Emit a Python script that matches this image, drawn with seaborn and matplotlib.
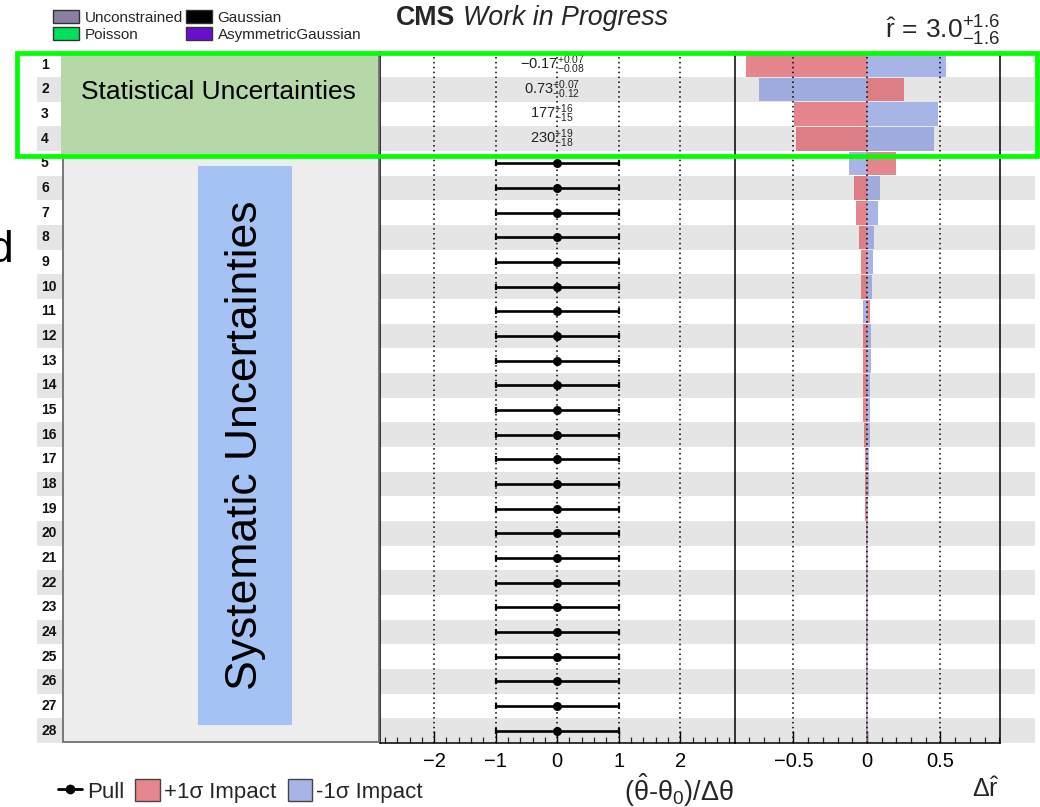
import numpy as np
import pandas as pd
import seaborn as sns
import matplotlib
matplotlib.use("Agg")
import matplotlib.pyplot as plt
from matplotlib.patches import Rectangle, Patch
from matplotlib.lines import Line2D
from matplotlib.ticker import MultipleLocator
import matplotlib.transforms as mtransforms

# ---------------- data ----------------
rows = [str(i) for i in range(1, 29)]

plus_impact = [-0.82, 0.25, -0.495, -0.485, 0.20, -0.088, -0.075, -0.052, -0.041, -0.039,
               0.018, -0.030, -0.028, -0.026, -0.024, -0.020, -0.014, -0.012, -0.011, -0.010,
               -0.009, -0.008, -0.008, -0.007, -0.007, -0.006, -0.006, -0.005]
minus_impact = [0.535, -0.735, 0.484, 0.456, -0.125, 0.086, 0.072, 0.048, 0.041, 0.036,
                -0.030, 0.027, 0.027, 0.020, 0.018, 0.018, 0.013, 0.011, 0.010, 0.009,
                0.008, 0.008, 0.007, 0.007, 0.006, 0.006, 0.005, 0.005]

pull_rows = rows[4:]
pull_values = [0.0] * 24
pull_errors = [1.0] * 24

poi_rows = rows[:4]
poi_labels = [r"$\mathrm{-0.17}^{+0.07}_{-0.08}$", r"$0.73^{+0.07}_{-0.12}$",
              r"$177^{+16}_{-15}$", r"$230^{+19}_{-18}$"]

pull_ticks = [-2, -1, 0, 1, 2]
pull_tick_labels = ["\u22122", "\u22121", "0", "1", "2"]
impact_ticks = [-0.5, 0, 0.5]
impact_tick_labels = ["\u22120.5", "0", "0.5"]

constraint_names = ["Unconstrained", "Poisson", "Gaussian", "AsymmetricGaussian"]
constraint_colors = ["#8a7fa3", "#00e05a", "#000000", "#6a0fd0"]

legend_labels = ["Pull", "+1\u03c3 Impact", "-1\u03c3 Impact"]
r_hat_text = r"$\hat{\mathrm{r}}\,=\,3.0^{+1.6}_{-1.6}$"
pull_axis_title = r"$(\hat{\mathrm{θ}}$-$\mathrm{θ}_{0})/\Delta\mathrm{θ}$"
impact_axis_title = r"$\Delta\hat{\mathrm{r}}$"

# ---------------- style ----------------
sns.set_style("white")
plt.rcParams["font.family"] = ["Liberation Sans", "DejaVu Sans"]
plt.rcParams["mathtext.fontset"] = "custom"
plt.rcParams["mathtext.rm"] = "Liberation Sans"
plt.rcParams["mathtext.it"] = "Liberation Sans:italic"
plt.rcParams["mathtext.bf"] = "Liberation Sans:bold"
plt.rcParams["axes.unicode_minus"] = True

RED = "#db525e"
BLUE = "#8394db"
RED_SOLID = "#e6878e"
BLUE_SOLID = "#a8b4e6"
BAND = "#e5e5e5"

W, H = 1040, 807
def box(x0, y0, x1, y1):
    return [x0 / W, 1 - y1 / H, (x1 - x0) / W, (y1 - y0) / H]
def fx(px):
    return px / W
def fy(py):
    return 1 - py / H

fig = plt.figure(figsize=(10.4, 8.07), dpi=100)
fig.patch.set_facecolor("white")

TOP, BOT = 52.4, 743.0
n = len(rows)
ylim = (n - 0.5, -0.5)

# background bands
ax_bg = fig.add_axes(box(37, TOP, 1035, BOT))
ax_bg.set_xlim(0, 1)
ax_bg.set_ylim(*ylim)
for i in range(1, n, 2):
    ax_bg.axhspan(i - 0.5, i + 0.5, color=BAND, lw=0)
ax_bg.axis("off")

trans_lab = mtransforms.blended_transform_factory(fig.transFigure, ax_bg.transData)
for i, r in enumerate(rows):
    ax_bg.text(fx(41), i, r, transform=trans_lab, ha="left", va="center",
               fontsize=10, fontweight="bold", color="#111111")

# ---------------- pull panel ----------------
ax_pull = fig.add_axes(box(380, TOP, 735, BOT))
ax_pull.set_facecolor("none")
pull_pos = [rows.index(r) for r in pull_rows]
for v in pull_ticks:
    ax_pull.axvline(v, color="black", ls=(0, (1, 2.2)), lw=1.1, zorder=1)
ax_pull.errorbar(pull_values, pull_pos, xerr=pull_errors, fmt="none", ecolor="black",
                 elinewidth=1.9, capsize=2.2, capthick=1.6, zorder=3)
sns.scatterplot(x=pull_values, y=pull_pos, ax=ax_pull, color="black", s=42,
                edgecolor="black", linewidth=0, zorder=4)
for r, lab in zip(poi_rows, poi_labels):
    ax_pull.text(-0.08, rows.index(r), lab, ha="center", va="center", fontsize=10.5,
                 color="#222222", zorder=5)
ax_pull.set_xlim(-2.88, 2.89)
ax_pull.set_ylim(*ylim)
ax_pull.set_yticks([])
ax_pull.set_xticks(pull_ticks, pull_tick_labels)
ax_pull.xaxis.set_minor_locator(MultipleLocator(0.2))

# ---------------- impact panel ----------------
ax_imp = fig.add_axes(box(735, TOP, 1000, BOT))
ax_imp.set_facecolor("none")
sns.barplot(x=plus_impact, y=rows, order=rows, orient="y", color=RED, alpha=0.7,
            saturation=1, width=0.96, errorbar=None, linewidth=0, ax=ax_imp)
sns.barplot(x=minus_impact, y=rows, order=rows, orient="y", color=BLUE, alpha=0.7,
            saturation=1, width=0.96, errorbar=None, linewidth=0, ax=ax_imp)
for v in impact_ticks:
    ax_imp.axvline(v, color="black", ls=(0, (1, 2.2)), lw=1.1, zorder=5)
ax_imp.set_xlim(-0.898, 0.905)
ax_imp.set_ylim(*ylim)
ax_imp.set_yticks([])
ax_imp.set_ylabel("")
ax_imp.set_xlabel("")
ax_imp.set_xticks(impact_ticks, impact_tick_labels)
ax_imp.xaxis.set_minor_locator(MultipleLocator(0.1))

for ax in (ax_pull, ax_imp):
    ax.spines["top"].set_visible(False)
    for s in ("left", "right", "bottom"):
        ax.spines[s].set_color("black")
        ax.spines[s].set_linewidth(1.1)
    ax.tick_params(axis="x", which="major", direction="in", length=9, width=1,
                   labelsize=14.5, pad=6.5, bottom=True, top=False, colors="black")
    ax.tick_params(axis="x", which="minor", direction="in", length=4.5, width=0.9,
                   bottom=True, top=False)
    ax.tick_params(axis="y", left=False, right=False)
ax_imp.spines["left"].set_visible(False)

# ---------------- overlay annotations ----------------
fig.patches.append(Rectangle((fx(63), fy(742)), (379 - 63) / W, (742 - 54) / H,
                             transform=fig.transFigure, fc="#ededed", ec="#707070",
                             lw=1.3, zorder=1))
fig.patches.append(Rectangle((fx(61), fy(154)), (378 - 61) / W, (154 - 54) / H,
                             transform=fig.transFigure, fc="#b6d7a8", ec="none", zorder=2))
fig.patches.append(Rectangle((fx(198), fy(725)), (292 - 198) / W, (725 - 166) / H,
                             transform=fig.transFigure, fc="#a4c2f4", ec="none", zorder=2))
fig.patches.append(Rectangle((fx(17), fy(156)), (1037 - 17) / W, (156 - 53) / H,
                             transform=fig.transFigure, fill=False, ec="#00ff00",
                             lw=3.4, zorder=8))

fig.text(fx(218), fy(92), "Statistical Uncertainties", ha="center", va="center",
         fontsize=19, color="black")
fig.text(fx(245), fy(445), "Systematic Uncertainties", ha="center", va="center",
         rotation=90, fontsize=32, color="black")
fig.text(fx(13), fy(262), "d", ha="right", va="baseline", fontsize=32, color="black")

# title and r-hat
fig.text(fx(396), fy(18), "CMS", ha="left", va="center", fontsize=19.3, fontweight="bold")
fig.text(fx(463), fy(18), "Work in Progress", ha="left", va="center", fontsize=19.3,
         style="italic")
fig.text(fx(1000), fy(31), r_hat_text, ha="right", va="center", fontsize=19)

# axis titles
fig.text(fx(734), fy(790), pull_axis_title, ha="right", va="center", fontsize=19.5)
fig.text(fx(1000), fy(790), impact_axis_title, ha="right", va="center", fontsize=18)

# top legend (constraint types)
top_handles = [Patch(fc=c, ec="#333333", lw=1.0) for c in constraint_colors]
fig.legend(top_handles, constraint_names, ncol=2, loc="upper left",
           bbox_to_anchor=(fx(53), fy(10)), frameon=False, fontsize=11,
           handlelength=1.7, handleheight=0.95, handletextpad=0.4,
           columnspacing=0.15, labelspacing=0.15, borderpad=0, borderaxespad=0)

# bottom legend
bottom_handles = [Line2D([0], [0], color="black", lw=2, marker="o", ms=6),
                  Patch(fc=RED_SOLID, ec="#444444", lw=1.0),
                  Patch(fc=BLUE_SOLID, ec="#444444", lw=1.0)]
fig.legend(bottom_handles, legend_labels, ncol=3, loc="center left",
           bbox_to_anchor=(fx(58), fy(791)), frameon=False, fontsize=16,
           handlelength=1.1, handleheight=1.1, handletextpad=0.2,
           columnspacing=0.5, borderpad=0, borderaxespad=0)

fig.savefig("out.png", dpi=100, facecolor="white")
